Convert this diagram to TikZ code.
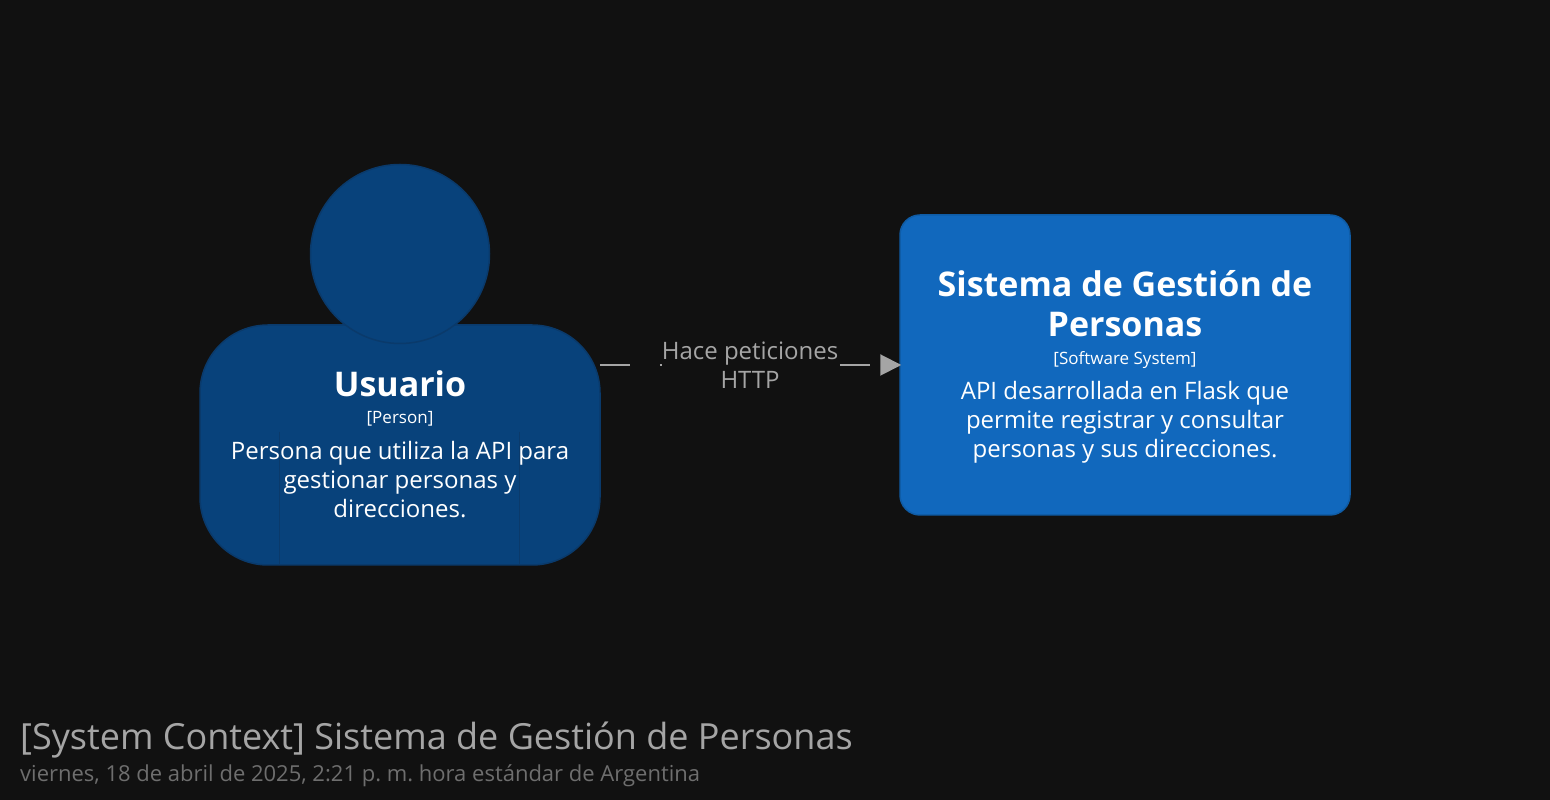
\documentclass[tikz,border=0pt]{standalone}
\usepackage{fontspec}
\setmainfont{Open Sans}
\usetikzlibrary{arrows.meta}
\definecolor{pagebg}{HTML}{111111}
\definecolor{personfill}{HTML}{08427B}
\definecolor{personline}{HTML}{0A3A6B}
\definecolor{systemfill}{HTML}{1168BD}
\definecolor{systemline}{HTML}{0F5CA6}
\definecolor{relgray}{HTML}{A5A5A5}
\definecolor{titlegray}{HTML}{A5A5A5}
\definecolor{dategray}{HTML}{6E6E6E}
\newcommand{\fs}[1]{\fontsize{#1}{#1}\selectfont}
\frenchspacing
\begin{document}
\begin{tikzpicture}[
    x=1pt, y=1pt,
    bodybox/.style={draw=personline, fill=personfill, line width=1.5pt, rounded corners=68pt,
                 minimum width=400pt, minimum height=240pt, inner sep=0pt},
    headbox/.style={circle, draw=personline, fill=personfill, line width=1.5pt,
                 minimum size=179pt, inner sep=0pt},
    sysbox/.style={draw=systemline, fill=systemfill, line width=1.5pt, rounded corners=20pt,
                   minimum width=450pt, minimum height=300pt, inner sep=0pt},
    desctxt/.style={text=white, align=center, inner sep=0pt, font=\fontsize{24}{29}\selectfont},
    nametxt/.style={text=white, align=center, inner sep=0pt, font=\fontsize{34}{40}\selectfont\bfseries},
    tagtxt/.style={text=white, align=center, inner sep=0pt, font=\fs{17}},
    rel/.style={draw=relgray, line width=2pt, dash pattern=on 30pt off 30pt, shorten >=-2pt,
                -{Triangle[length=21pt,width=21pt]}},
    lbl/.style={fill=pagebg, text=relgray, align=center, inner sep=0pt, minimum width=177pt,
                xshift=0.6pt, font=\fontsize{24}{29}\selectfont}
]

\fill[pagebg] (0,0) rectangle (1550,800);
\useasboundingbox (0,0) rectangle (1550,800);

\node[bodybox] (usuario) at (400,355) {};
\node[headbox] (cabeza) at (400,546) {};
\draw[personline, line width=1pt] (279.5,368) -- (279.5,235);
\draw[personline, line width=1pt] (519.5,368) -- (519.5,235);
\node[nametxt] (usuarioName) at (400,416) {Usuario};
\node[tagtxt]  (usuarioTag)  at (400,381) {[Person]};
\node[desctxt] (usuarioDesc) at (400,320) {Persona que utiliza la API para\\gestionar personas y\\direcciones.};

\node[sysbox] (sistema) at (1125,435) {};
\node[nametxt] (sistemaName) at (1125,496) {Sistema de Gestión de\\Personas};
\node[tagtxt]  (sistemaTag)  at (1125,440) {[Software System]};
\node[desctxt] (sistemaDesc) at (1125,377.5) {API desarrollada en Flask que\\permite registrar y consultar\\personas y sus direcciones.};

\coordinate (usuarioOut) at ([xshift=-1pt]usuario.east |- sistema.west);
\draw[rel] (usuarioOut) -- node[lbl] (relLabel) {Hace peticiones\\HTTP} (sistema.west);

\node[anchor=base west, inner sep=0pt, text=titlegray, font=\fs{36}] (titulo) at (20,50) {[System Context] Sistema de Gestión de Personas};
\node[anchor=base west, inner sep=0pt, text=dategray, font=\fs{22}] (fecha) at (20,18) {viernes, 18 de abril de 2025, 2:21 p. m. hora estándar de Argentina};

\end{tikzpicture}
\end{document}
